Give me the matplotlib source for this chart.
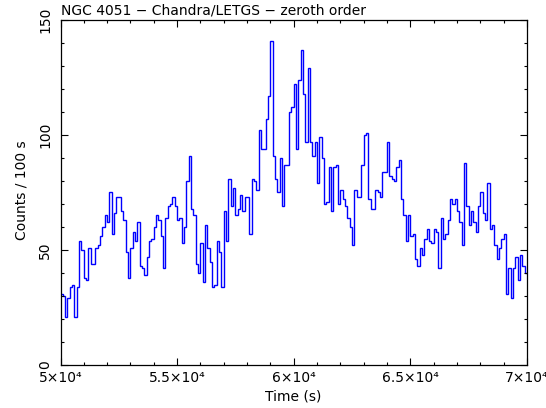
import numpy as np
import matplotlib
matplotlib.use("Agg")
import matplotlib.pyplot as plt
from matplotlib.ticker import MultipleLocator

plt.rcParams['font.family'] = ['DejaVu Sans']

# ---- data ----
time_start = 50000.0   # s
bin_width = 100.0      # s
counts = [
    31, 30, 21, 29, 34, 35, 21, 34, 54, 50,
    38, 37, 51, 44, 44, 51, 52, 56, 60, 65,
    62, 75, 57, 66, 73, 73, 67, 63, 49, 38,
    51, 58, 54, 62, 43, 42, 39, 47, 54, 55,
    60, 65, 63, 56, 42, 64, 69, 70, 73, 69,
    63, 64, 53, 60, 80, 91, 68, 65, 44, 40,
    53, 36, 61, 51, 45, 34, 35, 54, 49, 34,
    67, 54, 81, 69, 77, 65, 68, 74, 67, 73,
    73, 57, 81, 80, 76, 102, 94, 94, 107, 117,
    141, 91, 81, 75, 90, 69, 87, 87, 110, 112,
    122, 94, 124, 137, 118, 97, 129, 97, 91, 97,
    79, 99, 90, 70, 71, 86, 67, 86, 87, 70,
    76, 72, 69, 64, 60, 52, 76, 73, 73, 87,
    100, 101, 72, 68, 68, 76, 75, 73, 84, 84,
    97, 82, 81, 80, 86, 89, 72, 65, 54, 65,
    56, 57, 46, 43, 51, 48, 55, 59, 54, 53,
    59, 58, 42, 64, 55, 57, 63, 72, 70, 72,
    67, 62, 52, 88, 69, 61, 67, 62, 58, 69,
    75, 66, 63, 79, 59, 61, 52, 46, 51, 55,
    57, 31, 42, 29, 42, 47, 37, 48, 43, 40,
]
xticks = [50000, 55000, 60000, 65000, 70000]
xtick_labels = ['5\u00d710\u2074', '5.5\u00d710\u2074', '6\u00d710\u2074',
                '6.5\u00d710\u2074', '7\u00d710\u2074']
yticks = [0, 50, 100, 150]
ytick_labels = ['0', '50', '100', '150']
title = 'NGC 4051 \u2212 Chandra/LETGS \u2212 zeroth order'
xlabel = 'Time (s)'
ylabel = 'Counts / 100 s'

edges = time_start + bin_width * np.arange(len(counts) + 1)

W, H = 546, 408
fig = plt.figure(figsize=(W / 100, H / 100), dpi=100)
ax = fig.add_axes([60.5 / W, 1 - 365 / H, (527 - 60.5) / W, (365 - 20) / H])

ax.stairs(counts, edges, baseline=None, color='#0000ff', linewidth=1.0)

ax.set_xlim(50000, 70000)
ax.set_ylim(0, 150)
ax.set_xticks(xticks, labels=xtick_labels)
ax.set_yticks(yticks, labels=ytick_labels, rotation=90, va='center')
ax.xaxis.set_minor_locator(MultipleLocator(1000))
ax.yaxis.set_minor_locator(MultipleLocator(10))
ax.tick_params(which='both', direction='in', top=True, right=True,
               colors='black', labelsize=10, width=0.8)
ax.tick_params(which='major', length=4.7)
ax.tick_params(which='minor', length=2.4)
ax.tick_params(axis='x', pad=4)
ax.tick_params(axis='y', pad=6)
for s in ax.spines.values():
    s.set_linewidth(0.9)

fig.text(293 / W, 1 - 397 / H, xlabel, ha='center', va='center', fontsize=10)
fig.text(22 / W, 1 - 190 / H, ylabel, ha='center', va='center',
         rotation=90, fontsize=10)
fig.text(61 / W, 1 - 15 / H, title, ha='left', va='baseline', fontsize=10)

fig.savefig('out.png', dpi=100)
